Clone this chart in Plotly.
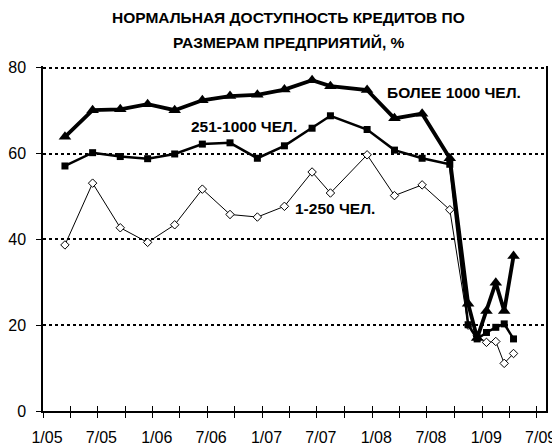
import plotly.graph_objects as go

# Survey dates (mid-month)
dates = ["2005-03-15", "2005-06-15", "2005-09-15", "2005-12-15", "2006-03-15",
         "2006-06-15", "2006-09-15", "2006-12-15", "2007-03-15", "2007-06-15",
         "2007-08-15", "2007-12-15", "2008-03-15", "2008-06-15", "2008-09-15",
         "2008-11-15", "2008-12-15", "2009-01-15", "2009-02-15", "2009-03-15",
         "2009-04-15"]

large = [63.9, 70.1, 70.3, 71.5, 70.1, 72.4, 73.4, 73.7, 74.9, 77.1, 75.7, 74.8,
         68.2, 69.3, 58.9, 25.0, 17.0, 23.3, 29.9, 23.3, 36.1]
medium = [57.1, 60.2, 59.3, 58.8, 59.9, 62.2, 62.5, 58.9, 61.8, 65.9, 68.8, 65.6,
          60.8, 58.9, 57.5, 20.1, 16.8, 18.3, 19.5, 20.3, 16.8]
small = [38.7, 53.1, 42.7, 39.3, 43.4, 51.7, 45.8, 45.2, 47.7, 55.7, 50.8, 59.7,
         50.2, 52.7, 46.9, 20.0, 17.5, 16.0, 16.2, 11.1, 13.4]

series_names = ["1-250 ЧЕЛ.", "251-1000 ЧЕЛ.", "БОЛЕЕ 1000 ЧЕЛ."]

tick_dates = ["2005-01-01", "2005-04-01", "2005-07-01", "2005-10-01", "2006-01-01",
              "2006-04-01", "2006-07-01", "2006-10-01", "2007-01-01", "2007-04-01",
              "2007-07-01", "2007-10-01", "2008-01-01", "2008-04-01", "2008-07-01",
              "2008-10-01", "2009-01-01", "2009-04-01", "2009-07-01"]
tick_text = ["1/05", "", "7/05", "", "1/06", "", "7/06", "", "1/07", "", "7/07", "",
             "1/08", "", "7/08", "", "1/09", "", "7/09"]

y_ticks = [0, 20, 40, 60, 80]

title_lines = ["НОРМАЛЬНАЯ ДОСТУПНОСТЬ КРЕДИТОВ ПО", "РАЗМЕРАМ ПРЕДПРИЯТИЙ, %"]

FONT = "Liberation Sans, Arial, sans-serif"

fig = go.Figure()

fig.add_trace(go.Scatter(
    x=dates, y=small, mode="lines+markers", name=series_names[0],
    line=dict(color="black", width=1),
    marker=dict(symbol="diamond", size=6.5, color="white",
                line=dict(color="black", width=1)),
    cliponaxis=False))
fig.add_trace(go.Scatter(
    x=dates, y=medium, mode="lines+markers", name=series_names[1],
    line=dict(color="black", width=2.5),
    marker=dict(symbol="square", size=7, color="black"),
    cliponaxis=False))
fig.add_trace(go.Scatter(
    x=dates, y=large, mode="lines+markers", name=series_names[2],
    line=dict(color="black", width=3.8),
    marker=dict(symbol="triangle-up", size=11, color="black"),
    cliponaxis=False))
# helper trace for the inward half of the crossing x ticks
fig.add_trace(go.Scatter(x=[], y=[], xaxis="x2", showlegend=False, hoverinfo="skip"))

x_range = ["2005-01-01", "2009-08-01"]

# the page body adds an 8px margin, so the figure is 8px smaller each way
fig.update_layout(
    width=552, height=440,
    margin=dict(l=35, r=14, t=58, b=37),
    paper_bgcolor="white", plot_bgcolor="white",
    showlegend=False,
    font=dict(family=FONT, color="black", size=16),
    xaxis=dict(
        type="date", range=x_range, automargin=False,
        tickvals=tick_dates, ticktext=tick_text,
        ticks="outside", ticklen=5, tickwidth=1, tickcolor="black",
        showline=True, linecolor="black", linewidth=1.5,
        showgrid=False, zeroline=False,
        tickfont=dict(size=16, family=FONT),
        ticklabelshift=4, ticklabelstandoff=6,
    ),
    xaxis2=dict(
        type="date", range=x_range, overlaying="x", anchor="y", side="bottom",
        automargin=False,
        tickvals=tick_dates, ticktext=[""] * len(tick_dates),
        ticks="inside", ticklen=5, tickwidth=1, tickcolor="black",
        showline=False, showgrid=False, zeroline=False, showticklabels=False,
    ),
    yaxis=dict(
        range=[0, 80.4], tickvals=y_ticks, automargin=False,
        ticks="outside", ticklen=5, tickwidth=1, tickcolor="black",
        showline=True, mirror=True, linecolor="black", linewidth=1.5,
        showgrid=True, gridcolor="black", gridwidth=2, griddash="dot",
        zeroline=False,
        tickfont=dict(size=16, family=FONT),
        ticklabelstandoff=7,
    ),
)

# title as two lines
for txt, yp in zip(title_lines, [1.141, 1.069]):
    fig.add_annotation(text="<b>" + txt + "</b>", xref="paper", yref="paper",
                       x=0.489, y=yp, xanchor="center", yanchor="middle",
                       showarrow=False, font=dict(size=15.5, family=FONT, color="black"))

# series labels
label_pos = [("2007-08-29", 47.1), ("2006-11-01", 66.2), ("2008-09-29", 74.2)]
for name, (lx, ly) in zip(series_names, label_pos):
    fig.add_annotation(text="<b>" + name + "</b>", x=lx, y=ly, xref="x", yref="y",
                       xanchor="center", yanchor="middle", showarrow=False,
                       font=dict(size=15.5, family=FONT, color="black"))

fig.write_html("out.html")
